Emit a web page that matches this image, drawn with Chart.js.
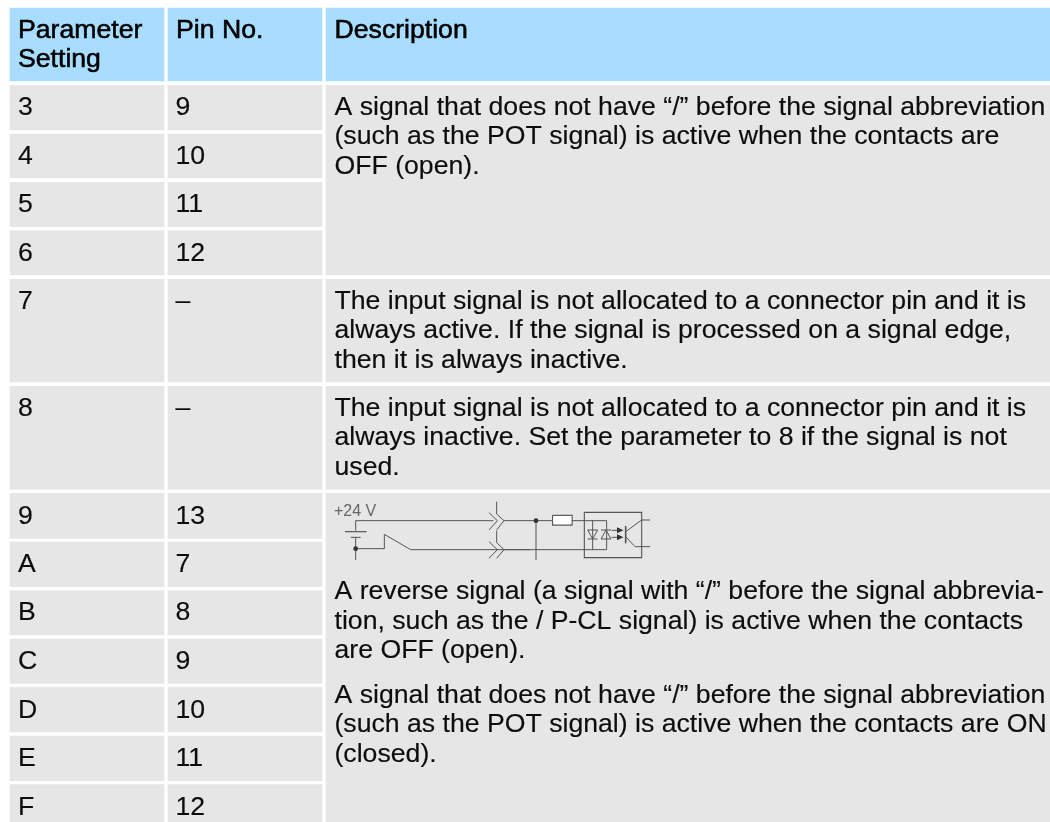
<!DOCTYPE html>
<html><head><meta charset="utf-8">
<style>html,body{margin:0;padding:0;background:#fff;overflow:hidden}canvas{display:block}</style>
<script src="https://cdn.jsdelivr.net/npm/chart.js@4"></script></head>
<body><canvas id="c" width="1050" height="822"></canvas>
<script>
const headers = ["Description"];
const paramHeader = ["Parameter", "Setting"];
const pinHeader = ["Pin No."];
const paramSettings = ["3","4","5","6","7","8","9","A","B","C","D","E","F"];
const pinNumbers = ["9","10","11","12","–","–","13","7","8","9","10","11","12"];
const desc1 = ["A signal that does not have “/” before the signal abbreviation","(such as the POT signal) is active when the contacts are","OFF (open)."];
const desc2 = ["The input signal is not allocated to a connector pin and it is","always active. If the signal is processed on a signal edge,","then it is always inactive."];
const desc3 = ["The input signal is not allocated to a connector pin and it is","always inactive. Set the parameter to 8 if the signal is not","used."];
const desc4 = ["A reverse signal (a signal with “/” before the signal abbrevia-","tion, such as the / P-CL signal) is active when the contacts","are OFF (open)."];
const desc5 = ["A signal that does not have “/” before the signal abbreviation","(such as the POT signal) is active when the contacts are ON","(closed)."];
const rowTops = [8,85.3,134,182.3,230.7,279.3,386.3,493.3,542,590.7,639,687.3,736,784.7];
const rowBottoms = [81,130,178,226.7,275,382,489.3,538.3,586.7,635,683.3,732,780.7,830];
const rowBaselines = [115,164,212,261,309,416,524,572,620,669,718,766,815];
const descTops = [85.3,279.3,386.3,493.3];
const descBottoms = [275,382,489.3,830];
const HEAD='#a8ddff', CELL='#e6e6e6', INK='#0d0d0d';
const F='"Liberation Sans", Arial, sans-serif';
const BODY=26.65;

function cells(center){
  return rowTops.map((t,i)=>({x:center,y:[t,rowBottoms[i]]}));
}
const descCells=[{x:688,y:[8,81]}].concat(descTops.map((t,i)=>({x:688,y:[t,descBottoms[i]]})));
const fill=c=>c.dataIndex===0?HEAD:CELL;

const textPlugin={id:'tableText',afterDatasetsDraw(chart){
  const {ctx,scales:{x,y}}=chart;
  const X=v=>x.getPixelForValue(v),Y=v=>y.getPixelForValue(v);
  const put=(s,px,py,size,col,sw)=>{ctx.font=size+'px '+F;ctx.fillStyle=col||INK;ctx.fillText(s,X(px),Y(py));if(sw){ctx.lineWidth=sw;ctx.strokeStyle=col||INK;ctx.strokeText(s,X(px),Y(py));}};
  ctx.save();ctx.textBaseline='alphabetic';ctx.textAlign='left';
  const head=(s,px,py)=>put(s,px,py,BODY,'#000',0.55);
  head(paramHeader[0],18,38);head(paramHeader[1],18,67);head(pinHeader[0],176,38);head(headers[0],334.5,38);
  paramSettings.forEach((s,i)=>put(s,18,rowBaselines[i],BODY,INK,0.15));
  pinNumbers.forEach((s,i)=>put(s,175.5,rowBaselines[i],BODY,INK,0.15));
  const block=(lines,base)=>lines.forEach((s,i)=>put(s,334.5,base[i],BODY,INK,0.15));
  block(desc1,[115,144,174]);
  block(desc2,[309,338,368]);
  block(desc3,[416,445,475]);
  block(desc4,[599,629,658]);
  block(desc5,[703,732,762]);
  // circuit diagram, given in a local frame and mapped through the scales
  const dx=320,dy=490,k=1/3,Q=p=>[X(dx+p[0]*k),Y(dy+p[1]*k)];
  const L=(pts,w)=>{ctx.beginPath();pts.forEach((p,i)=>{const q=Q(p);i?ctx.lineTo(q[0],q[1]):ctx.moveTo(q[0],q[1]);});ctx.lineWidth=w||1;ctx.strokeStyle='#555';ctx.stroke();};
  const D=(a,b)=>{const q=Q([a,b]);ctx.beginPath();ctx.arc(q[0],q[1],2.4,0,7);ctx.fillStyle='#333';ctx.fill();};
  put('+24 V',334,516,16,'#666');
  L([[107,92],[107,122]]);L([[75,125],[140,125]],1.2);L([[92,142],[122,142]]);L([[107,142],[107,210]]);
  L([[107,92],[520,92]]);L([[107,176],[193,176],[193,133],[272,179],[630,179]]);
  L([[530,35],[530,72],[552,92],[530,120]]);L([[507,68],[532,92],[507,120]]);
  L([[530,122],[530,158],[552,179],[530,205]]);L([[507,155],[532,179],[507,205]]);
  L([[552,92],[698,92]]);L([[552,179],[860,179]]);L([[648,92],[648,210]]);D(648,92);D(107,176);
  L([[698,76],[756,76],[756,105],[698,105],[698,76]],1.3);
  const qa=Q([698,76]);ctx.fillStyle='#fff';ctx.fillRect(qa[0]+.6,qa[1]+.6,58/3-1.2,29/3-1.2);
  L([[756,92],[860,92],[860,179]]);L([[818,92],[818,179]]);
  L([[793,67],[965,67],[965,203],[793,203],[793,67]],1.1);
  L([[803,120],[833,120],[818,147],[803,120]]);L([[803,147],[833,147]]);
  L([[843,147],[873,147],[858,120],[843,147]]);L([[843,120],[873,120]]);
  L([[875,121],[905,121]]);L([[875,142],[905,142]]);
  ctx.fillStyle='#333';
  [[900,121],[900,142]].forEach(p=>{const q=Q(p);ctx.beginPath();ctx.moveTo(q[0]+3.5,q[1]);ctx.lineTo(q[0]-3,q[1]-3);ctx.lineTo(q[0]-3,q[1]+3);ctx.fill();});
  L([[917,108],[917,160]],1.6);L([[917,125],[965,90],[990,90]]);L([[917,140],[945,170],[990,170]]);
  ctx.restore();
}};

new Chart(document.getElementById('c'),{
  type:'bar',
  data:{datasets:[
    {data:cells(87),barThickness:154,backgroundColor:fill,borderWidth:0},
    {data:cells(245),barThickness:154,backgroundColor:fill,borderWidth:0},
    {data:descCells,barThickness:724,backgroundColor:fill,borderWidth:0}
  ]},
  options:{responsive:false,animation:false,events:[],
    layout:{padding:0},
    datasets:{bar:{grouped:false}},
    plugins:{legend:{display:false},tooltip:{enabled:false},title:{display:false}},
    scales:{
      x:{type:'linear',min:0,max:1050,display:false,offset:false},
      y:{type:'linear',min:0,max:822,reverse:true,display:false}
    }},
  plugins:[textPlugin]
});
</script></body></html>
